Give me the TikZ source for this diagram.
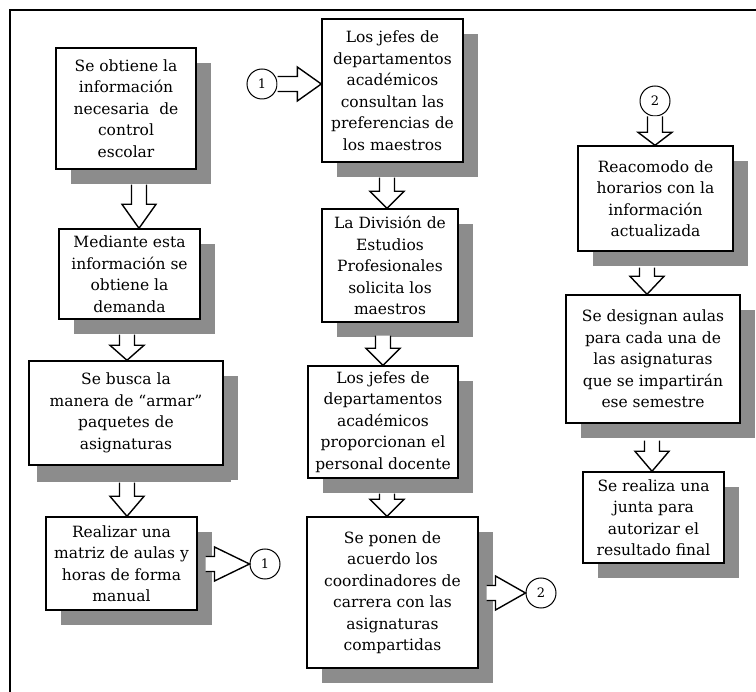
\documentclass[tikz,border=0pt]{standalone}
\usepackage{fontspec}
\setmainfont{DejaVu Serif}
\usetikzlibrary{calc,shadows}

\tikzset{
  paso/.style={draw, line width=1.4pt, fill=white, align=center, inner sep=2pt,
    font=\fontsize{15.5}{21.5}\selectfont,
    drop shadow={shadow xshift=15pt, shadow yshift=-15pt, fill=black!45, opacity=1}},
  conector/.style={draw, circle, line width=1pt, minimum size=30pt, inner sep=0pt,
    fill=white, font=\fontsize{13}{13}\selectfont},
  flecha/.style={draw, line width=1.4pt, fill=white, line join=miter}
}

% flecha de bloque hacia abajo: [largo punta] {desde} {hasta} {x}
\newcommand{\flechaabajo}[4][18]{%
  \path[flecha] let \p1=#2, \p2=#3 in
    (#4pt-7.5pt,\y1) -- (#4pt-7.5pt,\y2+#1pt) -- (#4pt-17pt,\y2+#1pt) -- (#4pt,\y2)
    -- (#4pt+17pt,\y2+#1pt) -- (#4pt+7.5pt,\y2+#1pt) -- (#4pt+7.5pt,\y1);}
% flecha de bloque hacia la derecha: [largo punta] {desde} {hasta}
\newcommand{\flechader}[3][24]{%
  \path[flecha] let \p1=#2, \p2=#3 in
    (\x1,\y2+7.5pt) -- (\x2-#1pt,\y2+7.5pt) -- (\x2-#1pt,\y2+17pt) -- (\x2,\y2)
    -- (\x2-#1pt,\y2-17pt) -- (\x2-#1pt,\y2-7.5pt) -- (\x1,\y2-7.5pt);}

\begin{document}
\begin{tikzpicture}[x=1pt, y=-1pt]
	\useasboundingbox (0,0) rectangle (756,692);
	\draw [line width=1.2pt] (756,10) -- (10,10) -- (10,692);

	% primera columna
	\node [paso, minimum width=140pt, minimum height=121pt] (b1) at (126,108.5)
		{Se obtiene la\\información\\necesaria\ \ de\\control\\escolar};
	\node [paso, minimum width=141pt, minimum height=90pt] (b2) at (129.5,274)
		{Mediante esta\\información se\\obtiene la\\demanda};
	\node [paso, minimum width=194pt, minimum height=104pt,
		drop shadow={shadow xshift=8pt, shadow yshift=-17pt, fill=black!45, opacity=1}] (b3) at (126,413)
		{Se busca la\\manera de “armar”\\paquetes de\\asignaturas};
	\node [paso, minimum width=151pt, minimum height=93pt] (b4) at (121.5,563.5)
		{Realizar una\\matriz de aulas y\\horas de forma\\manual};
	\node [conector] (c1b) at (265,564) {1};

	% segunda columna
	\node [conector] (c1a) at (262,84) {1};
	\node [paso, minimum width=141pt, minimum height=143pt] (m1) at (392.5,90.5)
		{Los jefes de\\departamentos\\académicos\\consultan las\\preferencias de\\los maestros};
	\node [paso, minimum width=136pt, minimum height=113pt] (m2) at (390,265.5)
		{La División de\\Estudios\\Profesionales\\solicita los\\maestros};
	\node [paso, minimum width=150pt, minimum height=112pt] (m3) at (383,422)
		{Los jefes de\\departamentos\\académicos\\proporcionan el\\personal docente};
	\node [paso, minimum width=171pt, minimum height=151pt] (m4) at (392.5,592.5)
		{Se ponen de\\acuerdo los\\coordinadores de\\carrera con las\\asignaturas\\compartidas};
	\node [conector] (c2b) at (541,593) {2};

	% tercera columna
	\node [conector] (c2a) at (655,101) {2};
	\node [paso, minimum width=155pt, minimum height=105pt] (r1) at (655.5,198.5)
		{Reacomodo de\\horarios con la\\información\\actualizada};
	\node [paso, minimum width=174pt, minimum height=128pt] (r2) at (653,359)
		{Se designan aulas\\para cada una de\\las asignaturas\\que se impartirán\\ese semestre};
	\node [paso, minimum width=141pt, minimum height=91pt] (r3) at (653.5,517.5)
		{Se realiza una\\junta para\\autorizar el\\resultado final};

	% flechas
	\flechaabajo[24]{($(b1.south)+(0,15)$)}{(b2.north)}{139}
	\flechaabajo[15]{($(b2.south)+(0,15)$)}{(b3.north)}{127}
	\flechaabajo[20]{($(b3.south)+(0,17)$)}{(b4.north)}{127}
	\flechader[35]{($(b4.east)+(8,0)$)}{(c1b.west)}
	\flechader{(c1a.east)}{(m1.west |- c1a.east)}
	\flechaabajo[17]{($(m1.south)+(0,15)$)}{(m2.north)}{387}
	\flechaabajo[17]{($(m2.south)+(0,13)$)}{(m3.north)}{383}
	\flechaabajo[17]{($(m3.south)+(0,15)$)}{(m4.north)}{387}
	\flechader[30]{($(m4.east)+(8,0)$)}{(c2b.west)}
	\flechaabajo[13]{(c2a.south)}{(r1.north)}{655}
	\flechaabajo[18]{($(r1.south)+(0,16)$)}{(r2.north)}{647}
	\flechaabajo[20]{($(r2.south)+(0,17)$)}{(r3.north)}{652}
\end{tikzpicture}
\end{document}
